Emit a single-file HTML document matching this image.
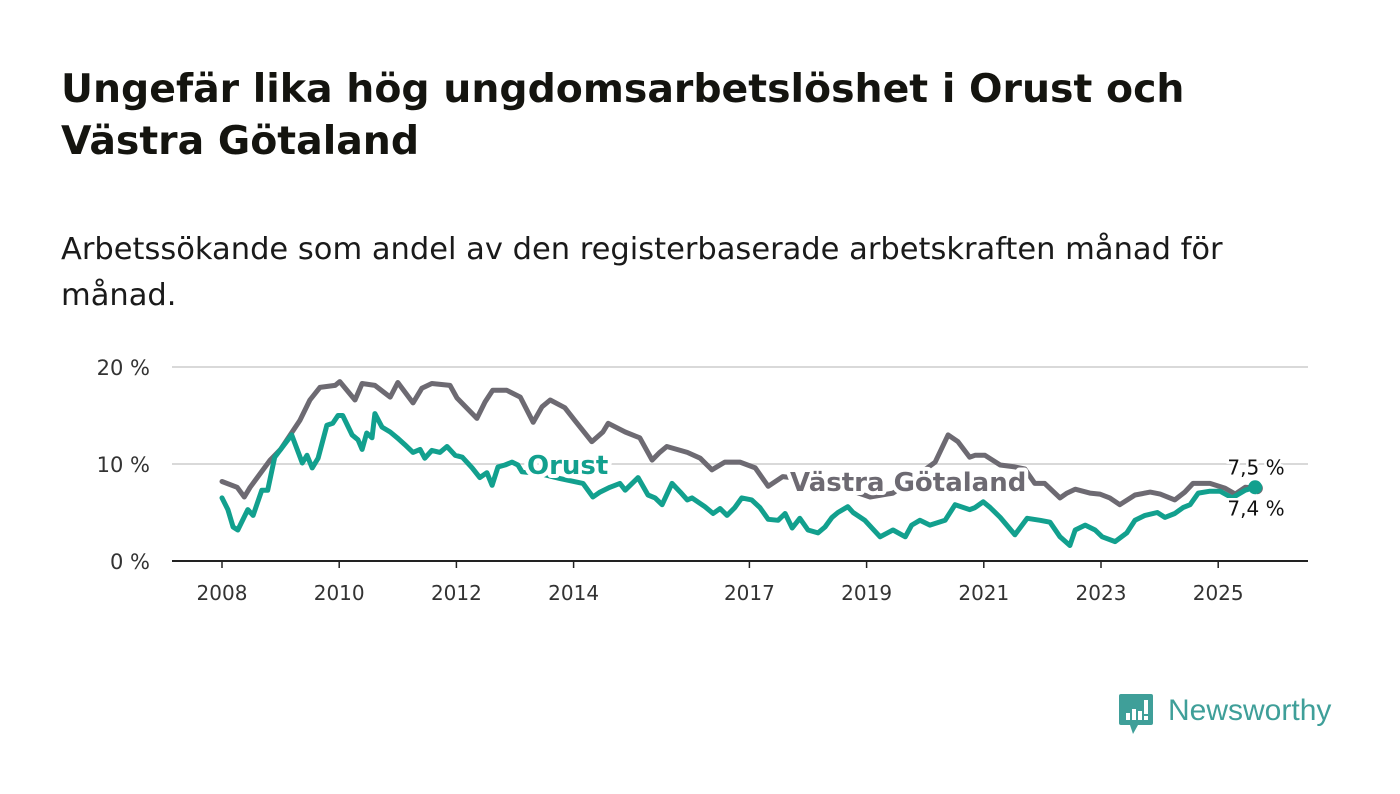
<!DOCTYPE html>
<html><head><meta charset="utf-8">
<style>
html,body{margin:0;padding:0;background:#fff;}
body{width:1400px;height:794px;position:relative;overflow:hidden;font-family:"Liberation Sans","DejaVu Sans",sans-serif;color:#111;}
#title{position:absolute;left:61px;top:63px;margin:0;font-family:"DejaVu Sans",sans-serif;font-size:39.4px;font-weight:bold;line-height:52px;color:#14140f;white-space:nowrap;}
#subtitle{position:absolute;left:61px;top:227px;margin:0;font-family:"DejaVu Sans",sans-serif;font-size:30.5px;line-height:46px;color:#1a1a1a;white-space:nowrap;}
svg{position:absolute;left:0;top:0;}
</style></head>
<body>
<h1 id="title">Ungefär lika hög ungdomsarbetslöshet i Orust och<br>Västra Götaland</h1>
<p id="subtitle">Arbetssökande som andel av den registerbaserade arbetskraften månad för<br>månad.</p>
<svg id="chart" width="1400" height="794"></svg>
<div style="position:absolute;left:1119px;top:692px;">
<svg width="220" height="45" style="position:static">
<path d="M2,2 h30 a2,2 0 0 1 2,2 v27 a2,2 0 0 1 -2,2 h-13 l-5,9 l-3,-9 h-9 a2,2 0 0 1 -2,-2 v-27 a2,2 0 0 1 2,-2z" fill="#3f9f99"/>
<rect x="7" y="21" width="4" height="7" fill="#fff"/><rect x="13" y="17" width="4" height="11" fill="#fff"/><rect x="19" y="19" width="4" height="9" fill="#fff"/><rect x="25" y="8" width="4" height="14" fill="#fff"/><rect x="25" y="24" width="4" height="4" fill="#fff"/>
<text x="49" y="28" font-family="Liberation Sans, sans-serif" font-size="30" fill="#3f9f99">Newsworthy</text>
</svg></div>
<script>
const baseYear = 2008;
const yTicks = [0, 10, 20];
const xTickYears = [2008, 2010, 2012, 2014, 2017, 2019, 2021, 2023, 2025];
const vgYears = [0,.26,.38,.48,.82,1.0,1.33,1.50,1.67,1.93,2.01,2.27,2.39,2.61,2.87,3.00,3.26,3.41,3.58,3.89,4.01,4.35,4.49,4.62,4.86,5.09,5.31,5.46,5.60,5.85,6.02,6.31,6.50,6.59,6.88,7.13,7.34,7.47,7.59,7.94,8.16,8.36,8.58,8.84,9.10,9.32,9.57,9.86,10.38,10.72,11.06,11.45,12.17,12.39,12.56,12.76,12.85,13.02,13.28,13.53,13.70,13.87,14.04,14.30,14.42,14.56,14.81,14.98,15.15,15.32,15.58,15.84,16.01,16.26,16.43,16.57,16.86,17.12,17.29,17.46,17.66];
const vgValues = [8.2,7.6,6.6,7.6,10.4,11.5,14.5,16.6,17.9,18.1,18.5,16.6,18.3,18.1,16.9,18.4,16.3,17.8,18.3,18.1,16.8,14.7,16.4,17.6,17.6,16.9,14.3,15.9,16.6,15.8,14.5,12.3,13.3,14.2,13.3,12.7,10.4,11.2,11.8,11.2,10.6,9.4,10.2,10.2,9.6,7.7,8.7,8.5,8.0,7.3,6.6,7.0,10.2,13.0,12.3,10.7,10.9,10.9,9.9,9.7,9.5,8.0,8.0,6.5,7.0,7.4,7.0,6.9,6.5,5.8,6.8,7.1,6.9,6.3,7.1,8.0,8.0,7.5,6.9,7.6,7.5];
const orYears = [0,.10,.19,.27,.44,.53,.68,.78,.90,1.19,1.37,1.45,1.54,1.64,1.79,1.89,1.98,2.06,2.22,2.32,2.39,2.47,2.56,2.61,2.73,2.87,2.99,3.12,3.26,3.38,3.46,3.58,3.72,3.84,3.98,4.10,4.27,4.40,4.52,4.61,4.71,4.83,4.95,5.05,5.12,5.43,5.77,6.16,6.33,6.45,6.62,6.79,6.88,7.10,7.27,7.39,7.51,7.68,7.82,7.94,8.02,8.24,8.38,8.50,8.62,8.75,8.87,9.04,9.18,9.32,9.49,9.61,9.73,9.86,10.0,10.17,10.29,10.41,10.51,10.68,10.77,10.97,11.23,11.45,11.66,11.77,11.91,12.08,12.34,12.51,12.76,12.85,12.99,13.11,13.28,13.53,13.74,13.96,14.13,14.30,14.47,14.56,14.73,14.90,15.02,15.24,15.44,15.58,15.75,15.96,16.09,16.26,16.40,16.52,16.66,16.86,17.03,17.24,17.46,17.63];
const orValues = [6.5,5.3,3.5,3.2,5.3,4.7,7.3,7.3,10.7,13.0,10.1,10.9,9.6,10.6,14.0,14.2,15.0,15.0,13.0,12.5,11.5,13.2,12.7,15.2,13.8,13.3,12.7,12.0,11.2,11.5,10.6,11.4,11.2,11.8,10.9,10.7,9.6,8.6,9.1,7.8,9.7,9.9,10.2,9.9,9.2,9.0,8.5,8.0,6.6,7.1,7.6,8.0,7.3,8.6,6.8,6.5,5.8,8.0,7.1,6.3,6.5,5.6,4.9,5.4,4.7,5.5,6.5,6.3,5.5,4.3,4.2,4.9,3.4,4.4,3.2,2.9,3.5,4.5,5.0,5.6,5.0,4.2,2.5,3.2,2.5,3.7,4.2,3.7,4.2,5.8,5.3,5.5,6.1,5.5,4.5,2.7,4.4,4.2,4.0,2.5,1.6,3.2,3.7,3.2,2.5,2.0,2.9,4.2,4.7,5.0,4.5,4.9,5.5,5.8,7.0,7.2,7.2,6.5,7.3,7.6];
const endLabels = ["7,5 %", "7,4 %"];

const NS = "http://www.w3.org/2000/svg";
const svg = document.getElementById('chart');
const X = t => 222 + (t - baseYear) * 58.6;
const Y = v => 561 - v * 9.7;
function mk(tag, attrs, parent){const e=document.createElementNS(NS,tag);for(const k in attrs)e.setAttribute(k,attrs[k]);(parent||svg).appendChild(e);return e;}

yTicks.forEach(v=>{
  const g = mk('line',{x1:172,x2:1308,y1:Y(v),y2:Y(v),stroke:v===0?'#222':'#d9d9d9','stroke-width':2});
  
  
  const t = mk('text',{x:150,y:Y(v)+8,'text-anchor':'end','font-size':21,'font-family':'DejaVu Sans, sans-serif',fill:'#333'});
  t.textContent = v + ' %';
  
  
});
xTickYears.forEach(yr=>{
  const l = mk('line',{x1:X(yr),x2:X(yr),y1:561,y2:568,stroke:'#222','stroke-width':1.5});
  
  
  const t = mk('text',{x:X(yr),y:600,'text-anchor':'middle','font-size':20,'font-family':'DejaVu Sans, sans-serif',fill:'#333'});
  t.textContent = yr;
  
  
});
function line(years, vals, color, name){
  const d = years.map((t,i)=>(i?'L':'M')+X(baseYear+t).toFixed(1)+','+Y(vals[i]).toFixed(1)).join(' ');
  const p = mk('path',{d:d,fill:'none',stroke:color,'stroke-width':5,'stroke-linejoin':'round','stroke-linecap':'round'});
  
  
}
line(vgYears, vgValues, '#6d6a72', 'vastra-gotaland-line');
line(orYears, orValues, '#12a08e', 'orust-line');

function label(x,y,txt,color,name,size){
  const t = mk('text',{x:x,y:y,'font-size':size,'font-weight':'bold','font-family':'DejaVu Sans, sans-serif',fill:color,stroke:'#fff','stroke-width':8,'paint-order':'stroke','stroke-linejoin':'round'});
  t.textContent = txt;
  
  
}
label(527, 474, 'Orust', '#12a08e', 'orust-label', 26);
label(790, 491, 'Västra Götaland', '#6d6a72', 'vastra-gotaland-label', 26);

const lastOr = orValues[orValues.length-1], lastVg = vgValues[vgValues.length-1];
const ex = X(baseYear + orYears[orYears.length-1]);
const d1 = mk('circle',{cx:X(baseYear+vgYears[vgYears.length-1]),cy:Y(lastVg),r:6,fill:'#6d6a72'});


const d2 = mk('circle',{cx:ex,cy:Y(lastOr),r:7,fill:'#12a08e'});


[[endLabels[0], Y(lastVg)-14],[endLabels[1], Y(lastOr)+28]].forEach((p,i)=>{
  const t = mk('text',{x:1256,y:p[1],'text-anchor':'middle','font-size':20,'font-family':'DejaVu Sans, sans-serif',fill:'#111',stroke:'#fff','stroke-width':5,'paint-order':'stroke'});
  t.textContent = p[0];
  
  
});
</script>
</body></html>
